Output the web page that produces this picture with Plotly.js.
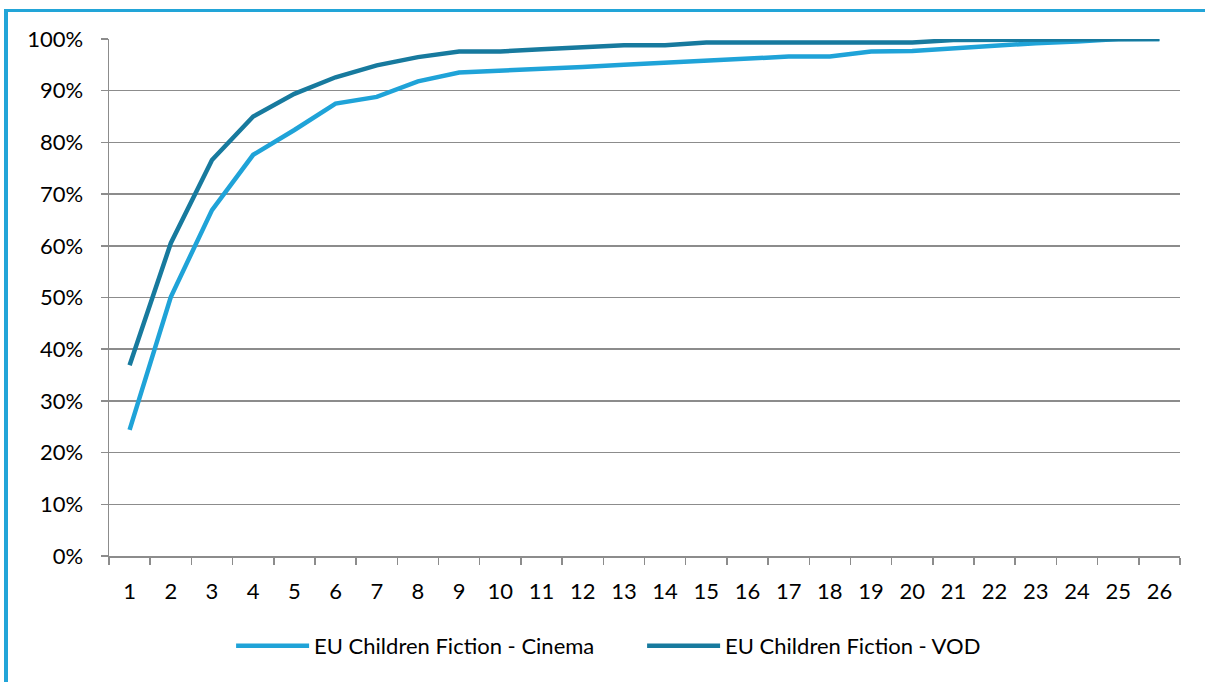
<!DOCTYPE html>
<html>
<head>
<meta charset="utf-8">
<script src="https://cdn.plot.ly/plotly-3.0.1.min.js"></script>
<style>
  html, body { margin: 0; padding: 0; background: #fff; overflow: hidden; }
  #frame { position: absolute; left: 4px; top: 9px; width: 1400px; height: 900px;
           border-left: 4px solid #22a5d8; border-top: 3px solid #22a5d8; }
  #chart { position: absolute; left: 0; top: 0; width: 1205px; height: 682px; }
</style>
</head>
<body>
<div id="frame"></div>
<div id="chart"></div>
<script>
const categories = ['1','2','3','4','5','6','7','8','9','10','11','12','13','14','15','16','17','18','19','20','21','22','23','24','25','26'];
const cinemaName = 'EU Children Fiction - Cinema';
const vodName = 'EU Children Fiction - VOD';
const cinemaValues = [24.4, 50.1, 66.9, 77.6, 82.4, 87.5, 88.8, 91.8, 93.5, 93.8, 94.2, 94.6, 95.0, 95.4, 95.8, 96.2, 96.6, 96.6, 97.6, 97.7, 98.2, 98.9, 99.2, 99.5, 100, 100];
const vodValues = [36.9, 60.5, 76.6, 85.0, 89.4, 92.6, 94.9, 96.5, 97.6, 97.6, 98.0, 98.4, 98.8, 98.8, 99.3, 99.3, 99.3, 99.3, 99.3, 99.3, 99.8, 99.8, 99.8, 99.9, 100, 100];

const fontFam = 'Lato, "Noto Sans", sans-serif';
const traces = [
  { x: categories, y: cinemaValues, name: cinemaName, type: 'scatter', mode: 'lines',
    line: { color: '#1fa3d8', width: 4.5 } },
  { x: categories, y: vodValues, name: vodName, type: 'scatter', mode: 'lines',
    line: { color: '#177a9e', width: 4.5 } }
];
const layout = {
  width: 1205, height: 682,
  paper_bgcolor: 'rgba(0,0,0,0)', plot_bgcolor: 'rgba(0,0,0,0)',
  margin: { l: 109, r: 25, t: 39, b: 126 },
  font: { family: fontFam, size: 22, color: '#000' },
  showlegend: true,
  legend: { orientation: 'h', x: 0.114, xanchor: 'left', y: -0.174, yanchor: 'middle',
            font: { family: fontFam, size: 22, color: '#000' }, itemwidth: 73,
            entrywidth: 323, entrywidthmode: 'pixels', traceorder: 'normal' },
  xaxis: {
    type: 'category', range: [-0.5, 25.5], tickson: 'boundaries', ticks: 'outside', ticklen: 7, tickwidth: 1.5,
    tickcolor: '#8c8c8c', showline: true, linecolor: '#8c8c8c', linewidth: 1.5,
    showgrid: false, zeroline: false, ticklabelstandoff: 15,
    tickfont: { family: fontFam, size: 22, color: '#000' }, fixedrange: true
  },
  yaxis: {
    range: [0, 100], dtick: 10, ticksuffix: '%', ticks: 'outside', ticklen: 7, tickwidth: 1.5,
    tickcolor: '#8c8c8c', showline: true, linecolor: '#8c8c8c', linewidth: 1.5,
    showgrid: true, gridcolor: '#8c8c8c', gridwidth: 1.5, zeroline: false,
    ticklabelstandoff: 13,
    tickfont: { family: fontFam, size: 22, color: '#000' }, fixedrange: true
  }
};
Plotly.newPlot('chart', traces, layout, { displayModeBar: false, staticPlot: true });
</script>
</body>
</html>
